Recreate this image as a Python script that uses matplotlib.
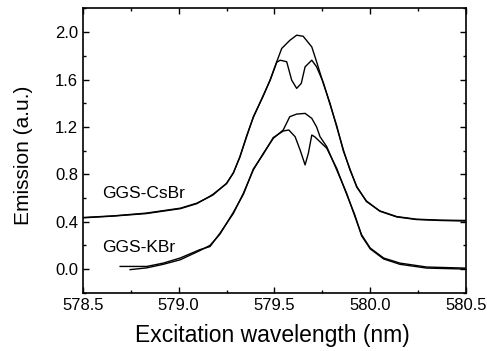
import matplotlib
matplotlib.use("Agg")
import matplotlib.pyplot as plt
from matplotlib.ticker import MultipleLocator

plt.rcParams['font.family'] = ['Liberation Sans', 'DejaVu Sans']

# GGS-CsBr, trace without dip
cs_a_wl = [578.50, 578.66, 578.83, 579.01, 579.095, 579.164, 579.18, 579.25, 579.286, 579.32, 579.355,
           579.39, 579.44, 579.477, 579.512, 579.538, 579.58, 579.616, 579.65, 579.695, 579.72,
           579.755, 579.79, 579.825, 579.86, 579.894, 579.93, 579.98, 580.05, 580.138, 580.24,
           580.364, 580.50]
cs_a_y = [0.435, 0.449, 0.472, 0.514, 0.556, 0.612, 0.626, 0.724, 0.810, 0.950, 1.117,
          1.286, 1.454, 1.595, 1.750, 1.862, 1.930, 1.974, 1.965, 1.875, 1.750,
          1.567, 1.400, 1.200, 1.005, 0.837, 0.696, 0.570, 0.491, 0.443, 0.421,
          0.413, 0.410]
# GGS-CsBr, trace with dip
cs_b_wl = [578.50, 578.66, 578.83, 579.01, 579.095, 579.164, 579.18, 579.25, 579.286, 579.32, 579.355,
           579.39, 579.44, 579.477, 579.512, 579.53, 579.564, 579.59, 579.616, 579.64, 579.66,
           579.695, 579.72, 579.755, 579.79, 579.825, 579.86, 579.894, 579.93, 579.98, 580.05,
           580.138, 580.24, 580.364, 580.50]
cs_b_y = [0.432, 0.447, 0.468, 0.510, 0.552, 0.615, 0.632, 0.720, 0.815, 0.945, 1.125,
          1.280, 1.460, 1.590, 1.745, 1.763, 1.750, 1.595, 1.525, 1.567, 1.707,
          1.763, 1.707, 1.575, 1.390, 1.210, 0.995, 0.845, 0.690, 0.575, 0.488,
          0.440, 0.418, 0.410, 0.405]

# GGS-KBr, trace without dip
k_a_wl = [578.695, 578.834, 578.92, 579.008, 579.11, 579.164, 579.216, 579.286, 579.338, 579.39,
          579.442, 579.494, 579.546, 579.58, 579.616, 579.66, 579.695, 579.72, 579.738,
          579.773, 579.825, 579.877, 579.92, 579.955, 580.0, 580.07, 580.155, 580.295, 580.494]
k_a_y = [0.022, 0.022, 0.050, 0.093, 0.163, 0.190, 0.303, 0.470, 0.640, 0.837,
         0.977, 1.103, 1.174, 1.286, 1.308, 1.314, 1.272, 1.200, 1.117,
         1.033, 0.837, 0.640, 0.443, 0.289, 0.177, 0.093, 0.050, 0.017, 0.008]
# GGS-KBr, trace with dip
k_b_wl = [578.747, 578.834, 578.92, 579.008, 579.11, 579.164, 579.216, 579.286, 579.338, 579.39,
          579.442, 579.494, 579.546, 579.575, 579.608, 579.634, 579.66, 579.677, 579.695, 579.71,
          579.773, 579.825, 579.877, 579.92, 579.955, 580.0, 580.07, 580.155, 580.295, 580.494]
k_b_y = [-0.005, 0.010, 0.040, 0.078, 0.155, 0.200, 0.295, 0.480, 0.630, 0.845,
         0.970, 1.110, 1.165, 1.174, 1.117, 1.005, 0.879, 0.977, 1.131, 1.117,
         1.020, 0.850, 0.630, 0.455, 0.280, 0.170, 0.085, 0.040, 0.008, 0.000]

fig = plt.figure(figsize=(4.87, 3.51), dpi=100)
ax = fig.add_axes([0.170, 0.166, 0.787, 0.810])

for wl, y in [(cs_a_wl, cs_a_y), (cs_b_wl, cs_b_y), (k_a_wl, k_a_y), (k_b_wl, k_b_y)]:
    ax.plot(wl, y, color='black', lw=1.0)

ax.text(578.6, 0.64, 'GGS-CsBr', fontsize=12.5, va='center')
ax.text(578.6, 0.18, 'GGS-KBr', fontsize=12.5, va='center')

ax.set_xlim(578.5, 580.5)
ax.set_ylim(-0.2, 2.2)
ax.xaxis.set_major_locator(MultipleLocator(0.5))
ax.xaxis.set_minor_locator(MultipleLocator(0.25))
ax.yaxis.set_major_locator(MultipleLocator(0.4))
ax.yaxis.set_minor_locator(MultipleLocator(0.2))
ax.xaxis.set_major_formatter(plt.FormatStrFormatter('%.1f'))
ax.yaxis.set_major_formatter(plt.FormatStrFormatter('%.1f'))
ax.tick_params(which='both', direction='in', top=True, right=True, labelsize=12, width=1)
ax.tick_params(which='major', length=4)
ax.tick_params(which='minor', length=2.5)
for s in ax.spines.values():
    s.set_linewidth(1.2)

ax.set_xlabel('Excitation wavelength (nm)', fontsize=16.5)
ax.set_ylabel('Emission (a.u.)', fontsize=15)
ax.xaxis.set_label_coords(0.495, -0.11)
ax.yaxis.set_label_coords(-0.13, 0.484)

fig.savefig('out.png', dpi=100)
